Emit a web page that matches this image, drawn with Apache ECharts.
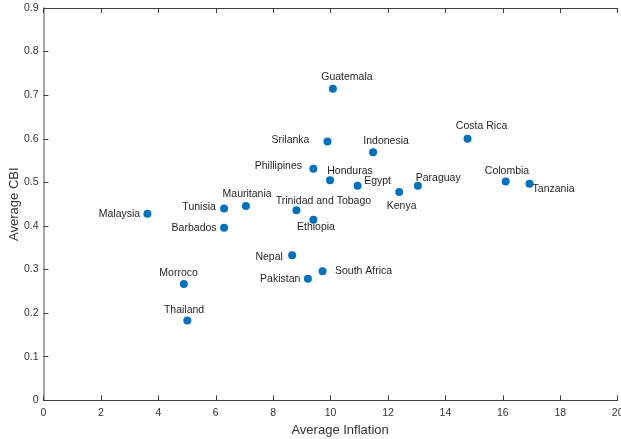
<!DOCTYPE html>
<html>
<head>
<meta charset="utf-8">
<script src="https://cdn.jsdelivr.net/npm/echarts@6/dist/echarts.min.js"></script>
<style>
html,body{margin:0;padding:0;background:#fff;}
#chart{width:621px;height:439px;}
</style>
</head>
<body>
<div id="chart"></div>
<script>
// ---- data ----
var countries = ["Guatemala","Srilanka","Indonesia","Costa Rica","Phillipines","Honduras","Egypt","Kenya","Paraguay","Colombia","Tanzania","Malaysia","Tunisia","Mauritania","Trinidad and Tobago","Ethiopia","Barbados","Nepal","Pakistan","South Africa","Morroco","Thailand"];
var inflation = [10.08, 9.89, 11.48, 14.77, 9.40, 9.98, 10.94, 12.39, 13.04, 16.10, 16.93, 3.62, 6.29, 7.05, 8.81, 9.40, 6.29, 8.66, 9.21, 9.72, 4.89, 5.01];
var cbi = [0.715, 0.594, 0.569, 0.600, 0.531, 0.505, 0.492, 0.478, 0.492, 0.502, 0.497, 0.428, 0.440, 0.446, 0.436, 0.414, 0.396, 0.333, 0.279, 0.296, 0.267, 0.183];
var xTicks = [0, 2, 4, 6, 8, 10, 12, 14, 16, 18, 20];
var yTicks = [0, 0.1, 0.2, 0.3, 0.4, 0.5, 0.6, 0.7, 0.8, 0.9];

// ---- label placement (style, text-centre offset from marker in px) ----
var labelOffset = {
  "Guatemala": [14, -12], "Srilanka": [-37, -1], "Indonesia": [13, -11], "Costa Rica": [14, -12.5],
  "Phillipines": [-35, -2.4], "Honduras": [20, -9.3], "Egypt": [20, -4.3], "Kenya": [2.4, 14.6],
  "Paraguay": [20.3, -7.4], "Colombia": [1.3, -10.6], "Tanzania": [24, 5.6], "Malaysia": [-28, 0],
  "Tunisia": [-25, -1.4], "Mauritania": [1.2, -11.3], "Trinidad and Tobago": [27, -9.3], "Ethiopia": [2.6, 7.7],
  "Barbados": [-30, 0.3], "Nepal": [-23, 1.7], "Pakistan": [-27.7, 0.6], "South Africa": [41, 0],
  "Morroco": [-5.3, -10.7], "Thailand": [-3.3, -10.7]
};

var points = countries.map(function (c, i) {
  return { name: c, value: [inflation[i], cbi[i]] };
});

var FONT = "Liberation Sans, Arial, Helvetica, sans-serif";
var chart = echarts.init(document.getElementById('chart'), null, {renderer: 'canvas'});
chart.setOption({
  animation: false,
  backgroundColor: '#ffffff',
  grid: { left: 43.5, right: 3.3, top: 8, bottom: 38.7, containLabel: false, outerBoundsMode: 'none' },
  xAxis: [{
    type: 'value', min: xTicks[0], max: xTicks[xTicks.length - 1], interval: 2,
    name: 'Average Inflation', nameLocation: 'middle', nameGap: 24, nameMoveOverlap: false,
    nameTextStyle: { fontFamily: FONT, fontSize: 13, color: '#333333', padding: [0, 0, 0, 19] },
    axisLine: { show: true, onZero: false, lineStyle: { color: '#404040', width: 1 } },
    axisTick: { show: true, inside: true, length: 5, lineStyle: { color: '#404040' } },
    axisLabel: { fontFamily: FONT, fontSize: 10.5, color: '#333333', margin: 7 },
    splitLine: { show: false }
  }, {
    type: 'value', position: 'top', min: xTicks[0], max: xTicks[xTicks.length - 1], interval: 2,
    axisLine: { show: true, onZero: false, lineStyle: { color: '#404040', width: 1 } },
    axisTick: { show: true, inside: true, length: 5, lineStyle: { color: '#404040' } },
    axisLabel: { show: false },
    splitLine: { show: false }
  }],
  yAxis: {
    type: 'value', min: yTicks[0], max: yTicks[yTicks.length - 1], interval: 0.1,
    name: 'Average CBI', nameLocation: 'middle', nameGap: 23, nameRotate: 90, nameMoveOverlap: false,
    nameTextStyle: { fontFamily: FONT, fontSize: 13, color: '#333333' },
    axisLine: { show: true, onZero: false, lineStyle: { color: '#a6a6a6', width: 2 } },
    axisTick: { show: true, inside: true, length: 5, lineStyle: { color: '#404040' } },
    axisLabel: { fontFamily: FONT, fontSize: 10.5, color: '#333333', margin: 5,
      formatter: function (v) { return v === 0 ? '0' : v.toFixed(1); } },
    splitLine: { show: false }
  },
  series: [{
    type: 'scatter',
    xAxisIndex: 0,
    data: points,
    symbol: 'circle',
    symbolSize: 8,
    itemStyle: { color: '#0072BD', opacity: 1 },
    label: {
      show: true, position: 'inside', align: 'center', verticalAlign: 'middle',
      formatter: '{b}', fontFamily: FONT, fontSize: 10.5, color: '#1f1f1f'
    },
    labelLayout: function (params) {
      var o = labelOffset[countries[params.dataIndex]] || [0, 0];
      return { dx: o[0], dy: o[1], hideOverlap: false };
    },
    emphasis: { disabled: true }
  }]
});
</script>
</body>
</html>
